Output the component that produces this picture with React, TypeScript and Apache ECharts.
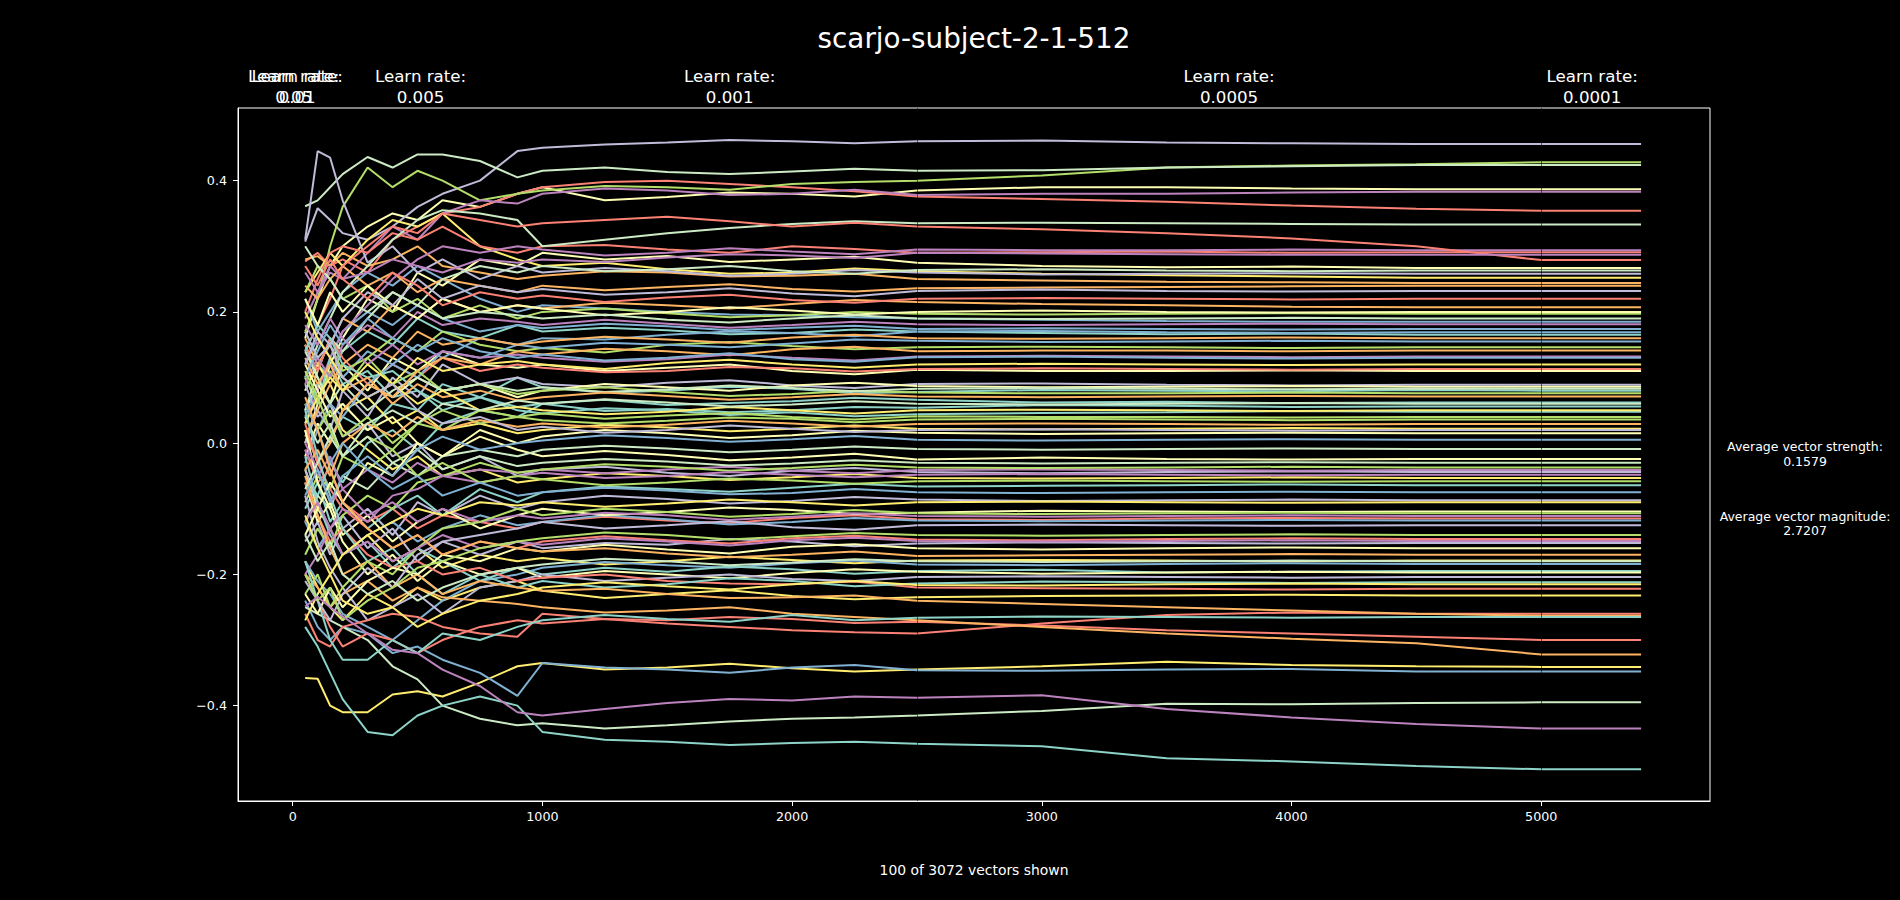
import React, { useEffect, useRef } from "react";
import * as echarts from "echarts";

// training step at which each sample was taken
const steps = [50, 100, 150, 200, 300, 400, 500, 600, 750, 900, 1000, 1250, 1500, 1750, 2000, 2250, 2500, 3000, 3500, 4000, 4500, 5000, 5400];

// vector values per colour group (10 vectors per colour, in plotting order)
const tealVectors = [
  [.08, .12, .10, .14, .17, .15, .19, .17, .16, .18, .17, .176, .172, .166, .168, .173, .170, .168, .166, .167, .165, .165, .165],
  [.02, -.03, .01, .04, .02, .06, .05, .09, .07, .10, .085, .077, .08, .086, .083, .076, .078, .081, .08, .079, .081, .08, .08],
  [.10, .06, .13, .09, .11, .07, .08, .05, .07, .055, .06, .066, .058, .061, .064, .069, .066, .062, .063, .061, .062, .062, .062],
  [-.05, -.08, -.03, -.06, 0, .02, -.01, .03, .05, .04, .06, .049, .052, .047, .05, .055, .054, .058, .057, .055, .056, .056, .056],
  [.14, .18, .16, .12, .10, .11, .08, .06, .07, .05, .045, .053, .05, .043, .047, .041, .044, .046, .047, .049, .048, .048, .048],
  [-.10, -.06, -.12, -.09, -.13, -.10, -.08, -.11, -.07, -.09, -.075, -.066, -.07, -.074, -.068, -.062, -.066, -.065, -.064, -.063, -.064, -.064, -.064],
  [-.02, -.09, -.14, -.17, -.15, -.19, -.16, -.18, -.21, -.19, -.2, -.19, -.196, -.188, -.192, -.199, -.195, -.193, -.197, -.196, -.195, -.195, -.195],
  [.05, -.02, -.08, -.13, -.18, -.16, -.20, -.23, -.20, -.22, -.21, -.22, -.215, -.206, -.21, -.218, -.214, -.211, -.212, -.213, -.212, -.212, -.212],
  [-.28, -.31, -.35, -.39, -.44, -.445, -.415, -.40, -.386, -.40, -.44, -.452, -.455, -.46, -.457, -.455, -.458, -.462, -.48, -.485, -.492, -.497, -.497],
  [-.18, -.24, -.30, -.33, -.33, -.30, -.32, -.29, -.30, -.28, -.27, -.262, -.268, -.272, -.262, -.27, -.266, -.264, -.265, -.266, -.265, -.265, -.265],
];
const paleYellowVectors = [
  [.16, .22, .27, .30, .33, .35, .34, .37, .36, .38, .39, .37, .375, .382, .38, .376, .385, .39, .39, .388, .387, .387, .387],
  [0, .06, .12, .16, .22, .20, .26, .24, .28, .27, .29, .28, .285, .276, .28, .284, .275, .27, .268, .269, .267, .267, .267],
  [.05, .09, .06, .12, .08, .13, .11, .14, .12, .115, .12, .11, .115, .12, .11, .105, .112, .11, .11, .111, .11, .11, .11],
  [-.02, .03, 0, .05, .09, .07, .10, .08, .09, .07, .08, .09, .085, .08, .088, .092, .087, .085, .086, .087, .086, .086, .086],
  [.12, .08, .04, .06, .02, .04, 0, -.02, .01, -.01, -.02, -.012, -.018, -.026, -.022, -.016, -.025, -.022, -.024, -.025, -.024, -.024, -.024],
  [-.06, -.12, -.09, -.14, -.11, -.15, -.12, -.10, -.13, -.11, -.10, -.11, -.105, -.098, -.102, -.108, -.106, -.103, -.104, -.105, -.104, -.104, -.104],
  [.02, -.06, -.10, -.15, -.20, -.17, -.21, -.18, -.20, -.19, -.205, -.195, -.2, -.206, -.198, -.192, -.196, -.199, -.197, -.196, -.197, -.197, -.197],
  [.22, .18, .23, .20, .24, .21, .19, .22, .20, .21, .205, .195, .2, .207, .202, .196, .2, .202, .2, .199, .2, .2, .2],
  [-.14, -.10, -.06, -.09, -.03, -.05, 0, -.02, .02, 0, .01, .02, .015, .008, .012, .019, .016, .014, .015, .016, .015, .015, .015],
  [-.23, -.26, -.22, -.25, -.21, -.19, -.2, -.17, -.18, -.16, -.165, -.155, -.162, -.168, -.158, -.154, -.16, -.162, -.16, -.159, -.16, -.16, -.16],
];
const lavenderVectors = [
  [.307, .358, .34, .32, .31, .33, .36, .38, .40, .445, .45, .455, .458, .462, .46, .457, .46, .461, .458, .457, .456, .456, .456],
  [.31, .445, .435, .37, .275, .30, .26, .28, .25, .27, .26, .267, .262, .255, .258, .264, .26, .257, .258, .259, .258, .258, .258],
  [0, .05, .02, .08, .04, .10, .07, .12, .09, .10, .09, .085, .092, .096, .088, .084, .09, .091, .089, .088, .089, .089, .089],
  [.09, .04, .06, .01, .03, -.02, 0, -.04, -.02, -.05, -.04, -.036, -.045, -.05, -.042, -.038, -.044, -.046, -.044, -.043, -.044, -.044, -.044],
  [-.15, -.12, -.17, -.13, -.10, -.14, -.09, -.11, -.08, -.1, -.09, -.08, -.085, -.092, -.088, -.082, -.086, -.088, -.087, -.086, -.087, -.087, -.087],
  [-.04, -.09, -.13, -.11, -.16, -.13, -.18, -.15, -.17, -.15, -.16, -.152, -.155, -.146, -.15, -.157, -.153, -.151, -.152, -.153, -.152, -.152, -.152],
  [-.08, -.15, -.19, -.22, -.27, -.25, -.23, -.26, -.22, -.21, -.2, -.21, -.205, -.2, -.207, -.21, -.204, -.203, -.204, -.205, -.204, -.204, -.204],
  [.12, .17, .15, .19, .23, .21, .25, .22, .24, .23, .235, .226, .23, .236, .228, .224, .232, .234, .232, .231, .232, .232, .232],
  [.17, .13, .15, .10, .07, .09, .05, .03, .04, .02, .025, .016, .02, .027, .022, .017, .02, .021, .02, .019, .02, .02, .02],
  [-.21, -.24, -.27, -.23, -.19, -.22, -.17, -.15, -.14, -.13, -.12, -.13, -.125, -.119, -.128, -.132, -.125, -.124, -.125, -.126, -.125, -.125, -.125],
];
const redVectors = [
  [.277, .29, .27, .28, .26, .31, .33, .35, .36, .38, .39, .398, .40, .395, .39, .384, .376, .372, .368, .362, .357, .354, .354],
  [.20, .25, .29, .30, .29, .32, .31, .33, .30, .29, .30, .302, .295, .29, .3, .296, .29, .291, .292, .29, .291, .291, .291],
  [.14, .18, .22, .27, .30, .33, .32, .35, .34, .33, .335, .34, .345, .338, .33, .336, .33, .326, .32, .312, .30, .279, .279],
  [.15, .11, .16, .13, .09, .12, .10, .13, .11, .12, .115, .108, .11, .116, .114, .109, .113, .114, .113, .112, .113, .113, .113],
  [-.01, -.06, -.04, -.09, -.12, -.10, -.13, -.11, -.12, -.13, -.12, -.112, -.118, -.122, -.114, -.11, -.116, -.117, -.115, -.114, -.115, -.115, -.115],
  [.03, -.03, -.07, -.10, -.13, -.16, -.14, -.17, -.15, -.16, -.15, -.142, -.148, -.153, -.145, -.141, -.147, -.148, -.146, -.145, -.146, -.146, -.146],
  [-.06, -.11, -.15, -.13, -.17, -.19, -.18, -.2, -.19, -.21, -.205, -.2, -.21, -.214, -.215, -.211, -.22, -.221, -.222, -.223, -.222, -.222, -.222],
  [-.26, -.30, -.31, -.28, -.27, -.26, -.265, -.28, -.29, -.295, -.26, -.268, -.275, -.28, -.285, -.288, -.29, -.275, -.262, -.258, -.26, -.26, -.26],
  [-.20, -.24, -.28, -.31, -.29, -.30, -.32, -.30, -.28, -.27, -.275, -.268, -.27, -.265, -.268, -.274, -.272, -.278, -.285, -.29, -.295, -.3, -.3],
  [.27, .24, .28, .25, .22, .26, .24, .21, .23, .22, .225, .215, .222, .226, .218, .214, .22, .221, .22, .219, .22, .22, .22],
];
const blueVectors = [
  [.22, .17, .20, .23, .26, .24, .27, .25, .22, .20, .21, .205, .2, .196, .195, .192, .19, .188, .186, .185, .185, .185, .185],
  [.12, .16, .13, .17, .20, .18, .21, .19, .17, .18, .175, .182, .178, .172, .176, .179, .174, .175, .174, .173, .174, .174, .174],
  [.04, .09, .12, .10, .14, .12, .15, .13, .16, .15, .16, .158, .165, .17, .168, .163, .17, .171, .169, .168, .169, .169, .169],
  [-.03, .02, .06, .04, .09, .12, .10, .14, .13, .15, .145, .153, .15, .146, .152, .158, .156, .154, .155, .156, .155, .155, .155],
  [-.12, -.16, -.13, -.17, -.14, -.12, -.15, -.13, -.11, -.125, -.12, -.11, -.116, -.124, -.12, -.114, -.118, -.119, -.118, -.117, -.118, -.118, -.118],
  [-.18, -.21, -.23, -.26, -.28, -.30, -.27, -.24, -.21, -.2, -.19, -.181, -.186, -.19, -.183, -.179, -.185, -.186, -.184, -.183, -.184, -.184, -.184],
  [-.24, -.28, -.30, -.28, -.29, -.32, -.31, -.33, -.35, -.385, -.335, -.342, -.345, -.35, -.342, -.338, -.346, -.347, -.345, -.344, -.348, -.348, -.348],
  [.10, .14, .18, .15, .19, .16, .14, .16, .14, .13, .135, .126, .13, .137, .128, .124, .131, .132, .13, .129, .13, .13, .13],
  [-.08, -.04, -.09, -.05, -.02, -.05, -.01, .01, -.01, 0, .004, .012, .008, .002, .006, .011, .005, .004, .005, .006, .005, .005, .005],
  [.06, .02, -.03, 0, -.04, -.07, -.05, -.08, -.06, -.08, -.075, -.068, -.072, -.078, -.076, -.07, -.075, -.076, -.075, -.074, -.075, -.075, -.075],
];
const orangeVectors = [
  [.28, .285, .27, .29, .27, .28, .30, .27, .26, .25, .255, .262, .26, .254, .255, .258, .25, .248, .246, .245, .244, .244, .244],
  [.24, .22, .25, .27, .24, .26, .23, .25, .24, .23, .24, .233, .238, .242, .235, .231, .236, .237, .238, .239, .24, .24, .24],
  [.16, .12, .15, .19, .17, .21, .19, .22, .20, .21, .205, .214, .21, .205, .212, .218, .215, .212, .21, .208, .207, .207, .207],
  [.01, .05, .09, .12, .15, .13, .17, .15, .16, .15, .155, .162, .158, .153, .161, .165, .16, .159, .16, .161, .16, .16, .16],
  [.02, -.03, 0, .05, .09, .07, .11, .13, .12, .14, .135, .144, .14, .134, .143, .147, .14, .141, .141, .14, .141, .141, .141],
  [.13, .09, .12, .08, .10, .06, .09, .07, .08, .065, .07, .077, .072, .066, .07, .075, .071, .07, .071, .072, .071, .071, .071],
  [-.04, -.01, -.05, 0, .03, .01, .04, .02, .035, .025, .03, .024, .028, .034, .03, .025, .029, .03, .029, .028, .029, .029, .029],
  [-.05, -.11, -.16, -.20, -.18, -.22, -.20, -.23, -.21, -.22, -.225, -.222, -.23, -.236, -.235, -.232, -.24, -.245, -.25, -.255, -.26, -.263, -.263],
  [-.20, -.22, -.25, -.23, -.21, -.24, -.22, -.235, -.24, -.245, -.25, -.258, -.255, -.25, -.26, -.265, -.27, -.28, -.29, -.298, -.305, -.322, -.322],
  [.07, .02, -.04, -.09, -.13, -.16, -.14, -.17, -.15, -.16, -.165, -.16, -.168, -.174, -.17, -.165, -.172, -.171, -.17, -.169, -.17, -.17, -.17],
];
const greenVectors = [
  [.17, .22, .30, .36, .42, .39, .415, .40, .37, .38, .385, .392, .39, .386, .395, .398, .40, .408, .42, .423, .425, .428, .428],
  [.23, .27, .25, .22, .24, .20, .22, .19, .21, .19, .2, .205, .198, .192, .195, .2, .197, .196, .197, .198, .197, .197, .197],
  [.10, .06, .11, .08, .13, .16, .14, .17, .15, .14, .145, .138, .15, .154, .148, .143, .146, .147, .146, .145, .146, .146, .146],
  [.17, .13, .15, .11, .13, .09, .11, .08, .09, .075, .08, .085, .078, .072, .075, .08, .077, .076, .076, .077, .076, .076, .076],
  [-.09, -.05, -.07, -.02, .01, -.01, .03, .02, .05, .04, .045, .037, .042, .046, .04, .036, .041, .04, .04, .039, .04, .04, .04],
  [.06, .02, .05, .01, .04, 0, .03, .05, .03, .04, .035, .03, .034, .039, .037, .032, .036, .037, .036, .035, .036, .036, .036],
  [-.17, -.13, -.16, -.11, -.08, -.1, -.06, -.05, -.03, -.045, -.04, -.032, -.036, -.042, -.038, -.033, -.037, -.038, -.037, -.036, -.037, -.037, -.037],
  [.11, .07, .02, -.02, -.04, -.01, -.05, -.03, -.06, -.05, -.055, -.064, -.06, -.054, -.057, -.062, -.058, -.057, -.058, -.059, -.058, -.058, -.058],
  [-.23, -.2, -.25, -.22, -.18, -.2, -.16, -.13, -.12, -.1, -.11, -.1, -.105, -.112, -.108, -.102, -.107, -.108, -.107, -.106, -.107, -.107, -.107],
  [-.20, -.24, -.22, -.27, -.24, -.22, -.19, -.18, -.16, -.15, -.145, -.136, -.14, -.147, -.142, -.137, -.14, -.141, -.14, -.139, -.14, -.14, -.14],
];
const purpleVectors = [
  [.19, .23, .26, .25, .29, .33, .31, .35, .37, .365, .38, .388, .385, .378, .38, .386, .378, .38, .38, .382, .383, .383, .383],
  [.03, .08, .13, .17, .21, .25, .28, .30, .29, .30, .295, .286, .29, .297, .292, .288, .295, .294, .294, .295, .294, .294, .294],
  [.26, .23, .27, .25, .26, .28, .27, .26, .28, .275, .28, .276, .283, .288, .286, .282, .29, .289, .288, .287, .287, .287, .287],
  [.09, .13, .10, .15, .18, .16, .2, .18, .19, .185, .18, .188, .182, .176, .18, .185, .181, .18, .181, .182, .181, .181, .181],
  [.18, .15, .19, .16, .12, .15, .12, .14, .13, .135, .13, .124, .128, .135, .13, .126, .132, .133, .132, .131, .132, .132, .132],
  [-.01, -.05, -.02, -.07, -.04, -.06, -.03, -.05, -.04, -.045, -.04, -.046, -.04, -.036, -.042, -.046, -.041, -.04, -.041, -.042, -.041, -.041, -.041],
  [-.20, -.17, -.13, -.10, -.12, -.08, -.07, -.05, -.06, -.05, -.045, -.053, -.05, -.044, -.048, -.052, -.048, -.047, -.048, -.049, -.048, -.048, -.048],
  [0, -.04, -.09, -.07, -.11, -.09, -.12, -.10, -.12, -.11, -.115, -.106, -.11, -.117, -.112, -.107, -.111, -.112, -.111, -.11, -.111, -.111, -.111],
  [-.12, -.09, -.13, -.17, -.15, -.18, -.16, -.14, -.16, -.15, -.155, -.145, -.15, -.156, -.148, -.144, -.149, -.15, -.149, -.148, -.149, -.149, -.149],
  [-.249, -.234, -.25, -.264, -.29, -.315, -.32, -.345, -.37, -.41, -.415, -.405, -.396, -.39, -.392, -.386, -.388, -.384, -.405, -.418, -.428, -.435, -.435],
];
const lightGreenVectors = [
  [.361, .37, .39, .41, .436, .42, .44, .44, .43, .405, .415, .42, .413, .41, .414, .418, .415, .416, .42, .422, .424, .424, .424],
  [.10, .15, .19, .23, .27, .31, .34, .355, .35, .34, .30, .31, .32, .328, .334, .338, .335, .336, .335, .334, .333, .333, .333],
  [.05, .11, .16, .14, .19, .23, .21, .25, .27, .26, .27, .262, .265, .27, .262, .258, .264, .265, .263, .262, .263, .263, .263],
  [.14, .10, .06, .09, .05, .08, .1, .08, .09, .08, .085, .078, .082, .088, .084, .079, .083, .084, .083, .082, .083, .083, .083],
  [-.12, -.08, -.1, -.05, -.07, -.03, -.05, -.02, -.01, -.02, -.01, -.004, -.008, -.014, -.01, -.005, -.009, -.01, -.009, -.008, -.009, -.009, -.009],
  [.04, 0, .03, -.02, .01, -.03, -.01, -.04, -.02, -.035, -.03, -.024, -.028, -.034, -.031, -.026, -.03, -.031, -.03, -.029, -.03, -.03, -.03],
  [-.25, -.26, -.27, -.28, -.30, -.34, -.36, -.40, -.42, -.43, -.427, -.435, -.43, -.424, -.42, -.418, -.415, -.408, -.397, -.398, -.396, -.395, -.395],
  [.30, .27, .25, .22, .2, .23, .21, .19, .2, .195, .19, .196, .188, .184, .19, .195, .19, .189, .19, .191, .19, .19, .19],
  [-.07, -.03, .01, -.02, .03, .05, .03, .06, .05, .065, .06, .067, .062, .056, .059, .064, .06, .059, .06, .061, .06, .06, .06],
  [-.14, -.18, -.15, -.2, -.23, -.21, -.24, -.22, -.2, -.19, -.185, -.176, -.18, -.186, -.182, -.177, -.18, -.181, -.18, -.179, -.18, -.18, -.18],
];
const yellowVectors = [
  [.23, .26, .29, .27, .31, .34, .33, .35, .30, .28, .27, .275, .265, .258, .26, .266, .262, .258, .256, .254, .252, .252, .252],
  [.08, .12, .09, .05, .07, .03, .05, .02, .03, .015, .02, .028, .024, .018, .022, .027, .022, .021, .022, .023, .022, .022, .022],
  [.15, .1, .06, .02, -.01, -.04, -.02, -.05, -.04, -.06, -.055, -.046, -.05, -.056, -.052, -.047, -.053, -.054, -.053, -.052, -.053, -.053, -.053],
  [-.04, -.1, -.13, -.17, -.14, -.18, -.16, -.19, -.17, -.18, -.175, -.185, -.18, -.173, -.178, -.183, -.179, -.178, -.179, -.18, -.179, -.179, -.179],
  [-.18, -.22, -.25, -.27, -.23, -.25, -.22, -.24, -.22, -.21, -.225, -.236, -.23, -.224, -.233, -.238, -.235, -.233, -.232, -.231, -.232, -.232, -.232],
  [-.358, -.359, -.40, -.41, -.41, -.383, -.378, -.386, -.365, -.34, -.335, -.345, -.342, -.336, -.343, -.348, -.345, -.34, -.333, -.338, -.34, -.341, -.341],
  [.03, .07, .1, .08, .12, .09, .13, .11, .12, .125, .12, .113, .122, .127, .12, .115, .12, .121, .12, .119, .12, .12, .12],
  [.2, .16, .13, .1, .07, .09, .06, .08, .05, .055, .05, .044, .048, .055, .05, .045, .05, .051, .05, .049, .05, .05, .05],
  [-.27, -.23, -.2, -.17, -.14, -.12, -.1, -.11, -.09, -.095, -.09, -.097, -.092, -.086, -.09, -.095, -.09, -.089, -.09, -.091, -.09, -.09, -.09],
  [-.11, -.16, -.2, -.24, -.26, -.25, -.28, -.26, -.24, -.23, -.22, -.212, -.218, -.223, -.215, -.21, -.216, -.217, -.215, -.214, -.215, -.215, -.215],
];

const learnRateNames = ["0.05", "0.01", "0.005", "0.001", "0.0005", "0.0001"];
const learnRateLabelSteps = [4, 18, 512, 1750, 3750, 5204];
const learnRateChangeSteps = [2500, 5000];
const xTickValues = [0, 1000, 2000, 3000, 4000, 5000];
const yTickValues = [-0.4, -0.2, 0, 0.2, 0.4];

const titleText = "scarjo-subject-2-1-512";
const footerText = "100 of 3072 vectors shown";
const strengthText = "Average vector strength:\n0.1579";
const magnitudeText = "Average vector magnitude:\n2.7207";

const palette = ["#8dd3c7", "#feffb3", "#bfbbd9", "#fa8174", "#81b1d2", "#fdb462", "#b3de69", "#bc82bd", "#ccebc4", "#ffed6f"];
const FONT = "DejaVu Sans";

export default function App() {
  const ref = useRef<HTMLDivElement>(null);

  useEffect(() => {
    if (!ref.current) return;
    const chart = echarts.init(ref.current, null, { renderer: "svg" });
    const groups = [tealVectors, paleYellowVectors, lavenderVectors, redVectors, blueVectors,
      orangeVectors, greenVectors, purpleVectors, lightGreenVectors, yellowVectors];
    const series: any[] = [];
    for (let k = 0; k < 10; k++) {
      for (let c = 0; c < 10; c++) {
        const row = groups[c][k];
        series.push({
          type: "line",
          data: steps.map((s, j) => [s, row[j]]),
          showSymbol: false,
          symbol: "none",
          silent: true,
          lineStyle: { width: 2 },
        });
      }
    }
    series.push({
      type: "line",
      data: [],
      z: 5,
      silent: true,
      markLine: {
        silent: true,
        symbol: "none",
        label: { show: false },
        lineStyle: { color: "#000", width: 1, type: "solid", opacity: 0.55 },
        data: learnRateChangeSteps.map((v) => ({ xAxis: v })),
      },
    });

    const option: any = {
      animation: false,
      backgroundColor: "#000",
      color: palette,
      grid: {
        left: 238, top: 108, width: 1472, height: 693,
        show: true, borderColor: "#ffffff", borderWidth: 1, backgroundColor: "transparent",
      },
      xAxis: {
        type: "value",
        min: -219,
        max: 5676,
        axisLine: { show: true, onZero: false, lineStyle: { color: "#fff", width: 1 } },
        axisTick: { show: true, length: 5, customValues: xTickValues, lineStyle: { color: "#fff", width: 1 } },
        axisLabel: {
          customValues: xTickValues,
          color: "#fff",
          fontSize: 12.7,
          fontFamily: FONT,
          margin: 9,
          formatter: (v: number) => String(Math.round(v)),
        },
        splitLine: { show: false },
      },
      yAxis: {
        type: "value",
        min: -0.5453,
        max: 0.5107,
        axisLine: { show: true, onZero: false, lineStyle: { color: "#fff", width: 1 } },
        axisTick: { show: true, length: 5, customValues: yTickValues, lineStyle: { color: "#fff", width: 1 } },
        axisLabel: {
          customValues: yTickValues,
          color: "#fff",
          fontSize: 12.7,
          fontFamily: FONT,
          margin: 11,
          formatter: (v: number) => (v < -1e-9 ? "\u2212" : "") + Math.abs(v).toFixed(1),
        },
        splitLine: { show: false },
      },
      series,
    };
    chart.setOption(option);

    const labelGraphics = learnRateNames.map((name, i) => {
      const px = chart.convertToPixel({ xAxisIndex: 0 }, learnRateLabelSteps[i]) as number;
      return {
        type: "text",
        x: px,
        y: 86.5,
        silent: true,
        style: {
          text: "Learn rate:\n" + name,
          fill: "#fff",
          fontSize: 16.67,
          fontFamily: FONT,
          lineHeight: 21,
          align: "center",
          verticalAlign: "middle",
        },
      };
    });

    chart.setOption({
      graphic: [
        {
          type: "text", x: 974, y: 38, silent: true,
          style: { text: titleText, fill: "#fff", fontSize: 27.8, fontFamily: FONT, align: "center", verticalAlign: "middle" },
        },
        {
          type: "text", x: 974, y: 870, silent: true,
          style: { text: footerText, fill: "#fff", fontSize: 13.9, fontFamily: FONT, align: "center", verticalAlign: "middle" },
        },
        {
          type: "text", x: 1805, y: 454, silent: true,
          style: { text: strengthText, fill: "#fff", fontSize: 12.5, fontFamily: FONT, lineHeight: 15, align: "center", verticalAlign: "middle" },
        },
        {
          type: "text", x: 1805, y: 523, silent: true,
          style: { text: magnitudeText, fill: "#fff", fontSize: 12.5, fontFamily: FONT, lineHeight: 14, align: "center", verticalAlign: "middle" },
        },
        ...labelGraphics,
      ],
    });

    return () => chart.dispose();
  }, []);

  return (
    <div
      ref={ref}
      style={{ position: "absolute", left: 0, top: 0, width: 1900, height: 900, background: "#000" }}
    />
  );
}
